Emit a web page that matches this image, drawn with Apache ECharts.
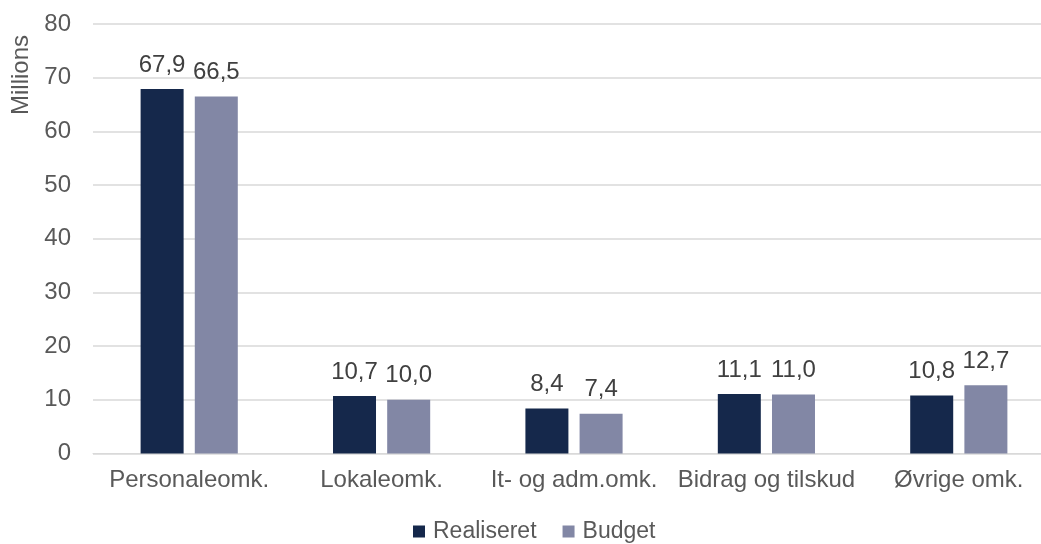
<!DOCTYPE html>
<html>
<head>
<meta charset="utf-8">
<script src="https://cdn.jsdelivr.net/npm/echarts@6/dist/echarts.min.js"></script>
<style>
    html, body { margin: 0; padding: 0; background: #fff; }
    #chart { width: 1041px; height: 544px; }
</style>
</head>
<body>
<div id="chart"></div>
<script>
    var categories = ['Personaleomk.', 'Lokaleomk.', 'It- og adm.omk.', 'Bidrag og tilskud', 'Øvrige omk.'];
    var realiseret = [67.9, 10.7, 8.4, 11.1, 10.8];
    var budget = [66.5, 10.0, 7.4, 11.0, 12.7];
    var yTicks = [0, 10, 20, 30, 40, 50, 60, 70, 80];

    var fontFamily = '"Liberation Sans", Arial, sans-serif';
    var textColor = '#595959';

    // komma som decimaltegn
    function fmt(v) {
        return v.toFixed(1).replace('.', ',');
    }

    var myChart = echarts.init(document.getElementById('chart'));
    var option = {
        animation: false,
        textStyle: { fontFamily: fontFamily },
        grid: {
            left: 93,
            right: -14,
            top: 24,
            bottom: 90.5,
            outerBoundsMode: 'none',
            containLabel: false
        },
        graphic: [{
            type: 'text',
            x: 21,
            y: 75,
            rotation: Math.PI / 2,
            style: {
                text: 'Millions',
                fill: textColor,
                font: '24px ' + fontFamily,
                align: 'center',
                verticalAlign: 'middle'
            }
        }],
        legend: {
            data: ['Realiseret', 'Budget'],
            top: 515,
            left: 408,
            itemWidth: 12,
            itemHeight: 12,
            itemGap: 26,
            icon: 'rect',
            textStyle: { color: textColor, fontSize: 23, fontFamily: fontFamily, padding: [0, 0, 0, 3] }
        },
        xAxis: {
            type: 'category',
            data: categories,
            axisLine: { lineStyle: { color: '#d9d9d9', width: 1 } },
            axisTick: { show: false },
            axisLabel: { color: textColor, fontSize: 24, margin: 15, interval: 0 }
        },
        yAxis: {
            type: 'value',
            min: yTicks[0],
            max: yTicks[yTicks.length - 1],
            interval: 10,
            axisLine: { show: false },
            axisTick: { show: false },
            splitLine: { lineStyle: { color: '#d9d9d9', width: 1.5 } },
            axisLabel: { color: textColor, fontSize: 24, margin: 22 }
        },
        series: [
            {
                name: 'Realiseret',
                type: 'bar',
                data: realiseret,
                barWidth: 43,
                barGap: '26%',
                itemStyle: { color: '#15284b' },
                label: {
                    show: true,
                    position: 'top',
                    distance: 12,
                    color: '#404040',
                    fontSize: 24,
                    formatter: function (p) { return fmt(p.value); }
                }
            },
            {
                name: 'Budget',
                type: 'bar',
                data: budget,
                barWidth: 43,
                itemStyle: { color: '#8287a5' },
                label: {
                    show: true,
                    position: 'top',
                    distance: 12,
                    color: '#404040',
                    fontSize: 24,
                    formatter: function (p) { return fmt(p.value); }
                }
            }
        ]
    };
    myChart.setOption(option);
</script>
</body>
</html>
